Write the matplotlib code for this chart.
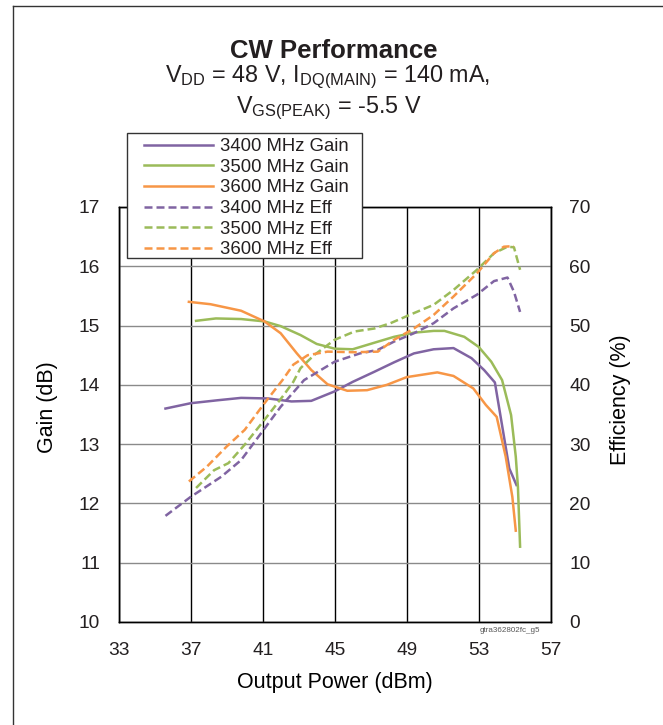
import matplotlib
matplotlib.use("Agg")
import matplotlib.pyplot as plt
from matplotlib.lines import Line2D
from matplotlib.patches import Rectangle

plt.rcParams['font.family'] = ['Liberation Sans', 'DejaVu Sans']
plt.rcParams['mathtext.fontset'] = 'custom'
plt.rcParams['mathtext.rm'] = 'Liberation Sans'
plt.rcParams['text.color'] = '#231F20'

# ---- data ----
pout_3400_gain = [35.6, 37.0, 38.5, 39.8, 41.3, 42.6, 43.7, 45.0, 46.0, 47.2, 48.3,
                  49.4, 50.5, 51.6, 52.6, 53.3, 53.9, 54.7, 55.1]
gain_3400 = [13.60, 13.69, 13.74, 13.78, 13.77, 13.72, 13.73, 13.89, 14.05, 14.22, 14.38,
             14.53, 14.60, 14.62, 14.45, 14.25, 14.04, 12.59, 12.31]

pout_3500_gain = [37.3, 38.4, 39.8, 41.1, 42.0, 43.1, 44.0, 45.0, 46.0, 47.2, 48.3,
                  49.4, 50.5, 51.1, 52.2, 53.0, 53.7, 54.3, 54.8, 55.06, 55.18, 55.3]
gain_3500 = [15.08, 15.12, 15.11, 15.07, 14.99, 14.84, 14.69, 14.61, 14.60, 14.71, 14.81,
             14.88, 14.91, 14.91, 14.81, 14.64, 14.39, 14.08, 13.49, 12.79, 12.28, 11.27]

pout_3600_gain = [36.9, 38.1, 39.8, 41.1, 42.0, 42.9, 43.7, 44.6, 45.7, 46.8, 47.9,
                  49.0, 50.7, 51.6, 52.7, 53.4, 54.0, 54.5, 54.87, 55.06]
gain_3600 = [15.40, 15.36, 15.25, 15.07, 14.87, 14.53, 14.25, 14.01, 13.90, 13.91, 14.00,
             14.13, 14.21, 14.15, 13.94, 13.66, 13.46, 12.79, 12.11, 11.54]

pout_3400_eff = [35.6, 37.0, 38.7, 39.8, 40.9, 42.0, 43.3, 45.0, 46.4, 47.4, 48.3,
                 49.4, 50.5, 51.6, 52.9, 53.85, 54.6, 54.96, 55.3]
eff_3400 = [17.9, 21.1, 24.5, 27.3, 31.8, 36.3, 40.8, 43.9, 45.3, 45.9, 47.3,
            48.7, 50.4, 52.9, 55.2, 57.5, 58.1, 55.7, 52.3]

pout_3500_eff = [37.3, 38.3, 39.1, 40.0, 41.1, 42.1, 42.7, 43.1, 43.85, 45.0, 46.1,
                 47.2, 48.1, 49.4, 50.5, 51.6, 52.9, 53.85, 54.6, 54.96, 55.3]
eff_3500 = [22.6, 25.6, 26.8, 29.9, 34.1, 38.0, 40.5, 42.8, 45.0, 47.6, 49.0,
            49.5, 50.4, 52.1, 53.5, 56.0, 59.4, 62.2, 63.3, 63.2, 59.4]

pout_3600_eff = [36.9, 37.9, 39.0, 40.0, 41.1, 42.1, 42.7, 43.5, 44.6, 46.1, 47.4,
                 48.3, 49.4, 50.5, 51.6, 52.9, 53.85, 54.4, 54.96]
eff_3600 = [23.7, 26.2, 29.6, 32.4, 36.9, 40.8, 43.4, 45.0, 45.6, 45.5, 45.6,
            47.6, 49.5, 51.8, 54.9, 58.8, 62.2, 63.3, 63.4]

x_ticks = list(range(33, 58, 4))
gain_ticks = list(range(10, 18))
eff_ticks = list(range(0, 71, 10))

purple = '#8064A2'
green = '#9BBB59'
orange = '#F79646'
dark = '#231F20'

fig = plt.figure(figsize=(6.63, 7.25), dpi=100)
ax = fig.add_axes([0.179, 0.1421, 0.6516, 0.5724])
ax2 = ax.twinx()

lw = 1.8
dash = (3.2, 1.6)
h1, = ax.plot(pout_3400_gain, gain_3400, color=purple, lw=lw, label='3400 MHz Gain')
h2, = ax.plot(pout_3500_gain, gain_3500, color=green, lw=lw, label='3500 MHz Gain')
h3, = ax.plot(pout_3600_gain, gain_3600, color=orange, lw=lw, label='3600 MHz Gain')
h4, = ax2.plot(pout_3400_eff, eff_3400, color=purple, lw=lw, dashes=dash, label='3400 MHz Eff')
h5, = ax2.plot(pout_3500_eff, eff_3500, color=green, lw=lw, dashes=dash, label='3500 MHz Eff')
h6, = ax2.plot(pout_3600_eff, eff_3600, color=orange, lw=lw, dashes=dash, label='3600 MHz Eff')

ax.set_xlim(33, 57)
ax.set_ylim(10, 17)
ax2.set_ylim(0, 70)
ax.set_xticks(x_ticks)
ax.set_yticks(gain_ticks)
ax2.set_yticks(eff_ticks)

ax.xaxis.grid(True, color='black', lw=1.0)
ax.yaxis.grid(True, color='#8A8A8A', lw=1.0)
ax.set_axisbelow(True)

for a in (ax, ax2):
    for s in a.spines.values():
        s.set_color('black')
        s.set_linewidth(1.0)
    a.tick_params(length=0, labelsize=13.8, labelcolor=dark)
ax.tick_params(axis='x', pad=14.5)
ax.tick_params(axis='y', pad=13.5)
ax2.tick_params(axis='y', pad=13.2)

ax.set_xlabel('Output Power (dBm)', fontsize=15.5)
ax.xaxis.set_label_coords(0.5, -0.12)
ax.set_ylabel('Gain (dB)', fontsize=15.5)
ax.yaxis.set_label_coords(-0.14, 0.518)
ax2.set_ylabel('Efficiency (%)', fontsize=15.5)
ax2.yaxis.set_label_coords(1.138, 0.535)

ax.text(0.975, -0.012, 'gtra362802fc_g5', transform=ax.transAxes, fontsize=5.8,
        color='#555555', ha='right', va='top')

# titles
fig.text(0.503, 1 - 58.3 / 725, 'CW Performance', fontsize=18.5, fontweight='bold',
         ha='center', va='baseline')
fig.text(0.494, 1 - 82 / 725,
         r'V$_{\mathregular{DD}}$ = 48 V, I$_{\mathregular{DQ(MAIN)}}$ = 140 mA,',
         fontsize=16.8, ha='center', va='baseline')
fig.text(0.496, 1 - 113 / 725, r'V$_{\mathregular{GS(PEAK)}}$ = -5.5 V',
         fontsize=16.8, ha='center', va='baseline')

# legend box and legend
fig.patches.append(Rectangle((126.7 / 663, 1 - 258 / 725), 235 / 663, 125 / 725,
                             transform=fig.transFigure, facecolor='white',
                             edgecolor='#333333', lw=1.0, zorder=5))
leg = fig.legend(handles=[h1, h2, h3, h4, h5, h6], loc='upper left',
                 bbox_to_anchor=(144 / 663, 1 - 138 / 725), frameon=False,
                 fontsize=13.3, borderpad=0, borderaxespad=0, labelspacing=0.2,
                 handlelength=3.75, handletextpad=0.38)
leg.set_zorder(6)
for t in leg.get_texts():
    t.set_color(dark)

# outer frame of the figure
fig.add_artist(Line2D([13 / 663, 13 / 663], [0, 1 - 6 / 725], color='#333333', lw=1.0))
fig.add_artist(Line2D([13 / 663, 1], [1 - 6 / 725, 1 - 6 / 725], color='#333333', lw=1.0))

fig.savefig('out.png', dpi=100)
